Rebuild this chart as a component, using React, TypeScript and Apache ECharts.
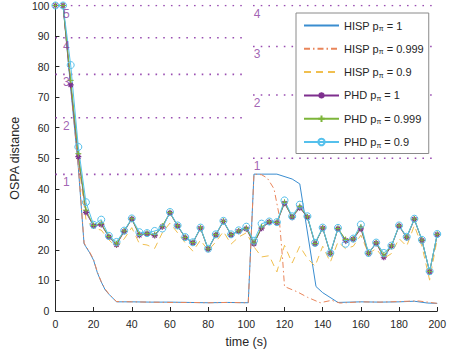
import React, { useEffect, useRef } from "react";
import * as echarts from "echarts";

// PHD time grid (every 4 s)
const phdTimes = [0,4,8,12,16,20,24,28,32,36,40,44,48,52,56,60,64,68,72,76,80,84,88,92,96,100,104,108,112,116,120,124,128,132,136,140,144,148,152,156,160,164,168,172,176,180,184,188,192,196,200];

const phd1 = [100,100,74,50.5,32.3,27.8,28.3,24.2,21.7,26,30.1,24.8,25.3,24.7,27.6,32.1,27.8,24,22.3,27.1,20.2,24.9,29.3,24.9,26.1,26.9,22,27.1,29.1,28.9,35.3,30.7,33.8,30.7,22,27.1,18.8,26.9,23.1,23.5,26.9,18.8,22.2,17.6,21.2,27.8,24,30,23.1,12.8,25];
const phd999 = [100,100,75.5,51.5,33,28,28.6,24.4,22,26.2,30.2,25,25.4,25,27.8,32.2,27.9,24.1,22.4,27.2,20.3,25,29.4,25,26.2,27.1,22.3,27.5,29.2,29,35.6,30.8,34.2,30.8,22.1,27.2,18.9,27,23.4,23.6,27.4,18.9,22.3,18.2,21.3,27.9,24.2,30.1,23.2,12.9,25.1];
const phd09 = [100,100,80.5,53.7,35.6,28.2,29.9,24.6,22.6,26.3,30.3,25.8,25.5,26.2,27,32.4,28,24.2,22.5,27.3,20.4,25.1,29.5,25.1,26.4,27.6,23,28.6,29.3,29.1,36.2,31,34.8,31,22.3,27.3,19,27.2,22,23.7,28.3,19,22.4,19,21.4,28,24.3,30.2,23.3,13,25.2];

const hisp09 = [100,100,75,49,30,27,26.5,23.3,20.8,23.6,27.3,22,21.6,20.5,25.6,28.8,25.6,22.3,19.6,23.2,19.8,22.6,26,21.9,24.2,25.6,21,17.7,18.1,12.8,21.5,15.7,21.2,17.2,14.7,21.2,16,22.6,20.4,21.2,24.8,18.8,20.4,17.2,18.8,23.7,21.2,28,21.2,10.1,23.7];

// HISP p=1 and p=0.999 as (time, value) samples
const hisp1Times = [0,4,8,12,15,16,18,20,22,24,26,28,32,40,50,60,70,80,90,101,104,108,116,124,128,136.5,140,148,160,170,180,188,195,200];
const hisp1Vals = [100,100,73,47,22,21,19,16.6,12.5,9.5,7,5.5,3,3,2.9,2.9,2.8,2.7,2.8,2.7,44.8,44.8,44.8,43.2,41.6,8,6,2.8,3,2.9,3,3.2,2.6,2.5];
const hisp999Times = [0,4,8,12,15,16,18,20,22,24,26,28,32,40,50,60,70,80,90,101,104,108,111,114.5,117,119,120,126.6,132,138.7,144.7,149,160,170,180,190,200];
const hisp999Vals = [100,100,73.5,47.5,22.3,21.2,19.2,16.8,12.7,9.6,7.2,5.6,3.1,3,2.9,2.8,2.8,2.7,2.8,2.7,44.8,44.6,43.5,40,32,17,8,6.3,4.5,2.7,3.5,2.6,3,2.9,3.1,3.3,2.5];

// cardinality reference levels
const leftLevels = [100, 89.44, 77.46, 63.25, 44.72];
const leftLevelLabels = ["5", "4", "3", "2", "1"];
const rightLevels = [100, 86.6, 70.71, 50];
const rightLevelLabels = ["4", "3", "2", "1"];
const leftSpan = [0, 100];
const rightSpan = [103.5, 200];
const leftLabelX = 5.7;
const rightLabelX = 105.7;

const seriesNames = [
  "HISP pπ = 1",
  "HISP pπ = 0.999",
  "HISP pπ = 0.9",
  "PHD pπ = 1",
  "PHD pπ = 0.999",
  "PHD pπ = 0.9",
];

const FONT = "Liberation Sans";
const LEVEL_COLOR = "#9a4fb2";

export default function App() {
  const ref = useRef<HTMLDivElement>(null);
  useEffect(() => {
    if (!ref.current) return;
    const chart = echarts.init(ref.current, null, { renderer: "svg" });

    const zip = (xs: number[], ys: number[]) => xs.map((x, i) => [x, ys[i]]);

    const blue = "#3a8dd0";
    const orange = "#e9855a";
    const yellow = "#f0bf4f";
    const purple = "#7e2f8e";
    const green = "#7db53a";
    const cyan = "#55c0ec";

    const levelSeries: any[] = [];
    leftLevels.forEach((v) => {
      levelSeries.push({
        type: "line",
        name: "lvl",
        data: [[leftSpan[0], v], [leftSpan[1], v]],
        symbol: "none",
        silent: true,
        z: 1,
        lineStyle: { color: LEVEL_COLOR, width: 1.6, type: [1.6, 6.1] },
      });
    });
    rightLevels.forEach((v) => {
      levelSeries.push({
        type: "line",
        name: "lvl",
        data: [[rightSpan[0], v], [rightSpan[1], v]],
        symbol: "none",
        silent: true,
        z: 1,
        lineStyle: { color: LEVEL_COLOR, width: 1.6, type: [1.6, 6.1] },
      });
    });
    const labelData = [
      ...leftLevels.map((v, i) => ({ value: [leftLabelX, v], name: leftLevelLabels[i] })),
      ...rightLevels.map((v, i) => ({ value: [rightLabelX, v], name: rightLevelLabels[i] })),
    ];
    levelSeries.push({
      type: "scatter",
      name: "lvlLabels",
      data: labelData,
      symbolSize: 0,
      silent: true,
      z: 5,
      label: {
        show: true,
        position: "inside",
        offset: [0, 8],
        formatter: (p: any) => p.name,
        color: "#8a3aa0",
        fontSize: 12,
        fontFamily: FONT,
      },
    });

    const legendData = seriesNames.map((n, i) =>
      i < 3 ? { name: n, itemStyle: { opacity: 0 } } : { name: n }
    );

    chart.setOption({
      animation: false,
      backgroundColor: "#ffffff",
      grid: { left: 51, right: 10, top: 4, bottom: 42, containLabel: false },
      xAxis: {
        type: "value",
        min: 0,
        max: 200,
        interval: 20,
        name: "time (s)",
        nameLocation: "middle",
        nameGap: 24,
        nameTextStyle: { fontFamily: FONT, fontSize: 12.5, color: "#262626" },
        axisLine: { show: true, lineStyle: { color: "#262626", width: 1 } },
        axisTick: { show: true, inside: true, length: 4, lineStyle: { color: "#262626" } },
        axisLabel: { fontFamily: FONT, fontSize: 10.5, color: "#262626", margin: 7 },
        splitLine: { show: false },
      },
      yAxis: {
        type: "value",
        min: 0,
        max: 100,
        interval: 10,
        name: "OSPA distance",
        nameLocation: "middle",
        nameGap: 33,
        nameTextStyle: { fontFamily: FONT, fontSize: 12.5, color: "#262626" },
        axisLine: { show: true, lineStyle: { color: "#262626", width: 1 } },
        axisTick: { show: true, inside: true, length: 4, lineStyle: { color: "#262626" } },
        axisLabel: { fontFamily: FONT, fontSize: 10.5, color: "#262626", margin: 6 },
        splitLine: { show: false },
      },
      legend: {
        data: legendData,
        orient: "vertical",
        left: 296,
        top: 13,
        padding: [7, 5, 5, 7],
        itemWidth: 35,
        itemHeight: 8,
        itemGap: 11.3,
        backgroundColor: "#ffffff",
        borderColor: "#8a8a8a",
        borderWidth: 1,
        borderRadius: 0,
        formatter: (name: string) => {
          const [pre, post] = name.split("π");
          return `{a|${pre}}{s|π}{a|${post}}`;
        },
        textStyle: {
          fontFamily: FONT,
          fontSize: 11,
          color: "#262626",
          rich: {
            a: { fontFamily: FONT, fontSize: 11, color: "#262626" },
            s: { fontFamily: FONT, fontSize: 7, color: "#262626", padding: [6, 0, 0, 0] },
          },
        },
      },
      series: [
        ...levelSeries,
        {
          type: "line",
          name: seriesNames[0],
          data: zip(hisp1Times, hisp1Vals),
          symbol: "none",
          z: 3,
          itemStyle: { color: blue },
          lineStyle: { color: blue, width: 1 },
        },
        {
          type: "line",
          name: seriesNames[1],
          data: zip(hisp999Times, hisp999Vals),
          symbol: "none",
          z: 3,
          itemStyle: { color: orange },
          lineStyle: { color: orange, width: 1, type: [6, 3, 1.5, 3] },
        },
        {
          type: "line",
          name: seriesNames[2],
          data: zip(phdTimes, hisp09),
          symbol: "none",
          z: 3,
          itemStyle: { color: yellow },
          lineStyle: { color: yellow, width: 1, type: [7, 5] },
        },
        {
          type: "line",
          name: seriesNames[3],
          data: zip(phdTimes, phd1),
          symbol: "path://M5,0L5,10M0,5L10,5M1.5,1.5L8.5,8.5M8.5,1.5L1.5,8.5",
          symbolSize: 6,
          showAllSymbol: true,
          z: 4,
          itemStyle: { color: purple, borderColor: purple, borderWidth: 1.2 },
          lineStyle: { color: purple, width: 1 },
        },
        {
          type: "line",
          name: seriesNames[4],
          data: zip(phdTimes, phd999),
          symbol: "path://M5,0L5,10M0,5L10,5",
          symbolSize: 6,
          showAllSymbol: true,
          z: 4,
          itemStyle: { color: green, borderColor: green, borderWidth: 1 },
          lineStyle: { color: green, width: 1 },
        },
        {
          type: "line",
          name: seriesNames[5],
          data: zip(phdTimes, phd09),
          symbol: "circle",
          symbolSize: 7,
          showAllSymbol: true,
          z: 4,
          itemStyle: { color: "rgba(0,0,0,0)", borderColor: cyan, borderWidth: 1 },
          lineStyle: { color: cyan, width: 1 },
        },
      ],
    });
    return () => chart.dispose();
  }, []);
  return <div ref={ref} style={{ width: 449, height: 353, position: "absolute", left: 0, top: 0 }} />;
}
